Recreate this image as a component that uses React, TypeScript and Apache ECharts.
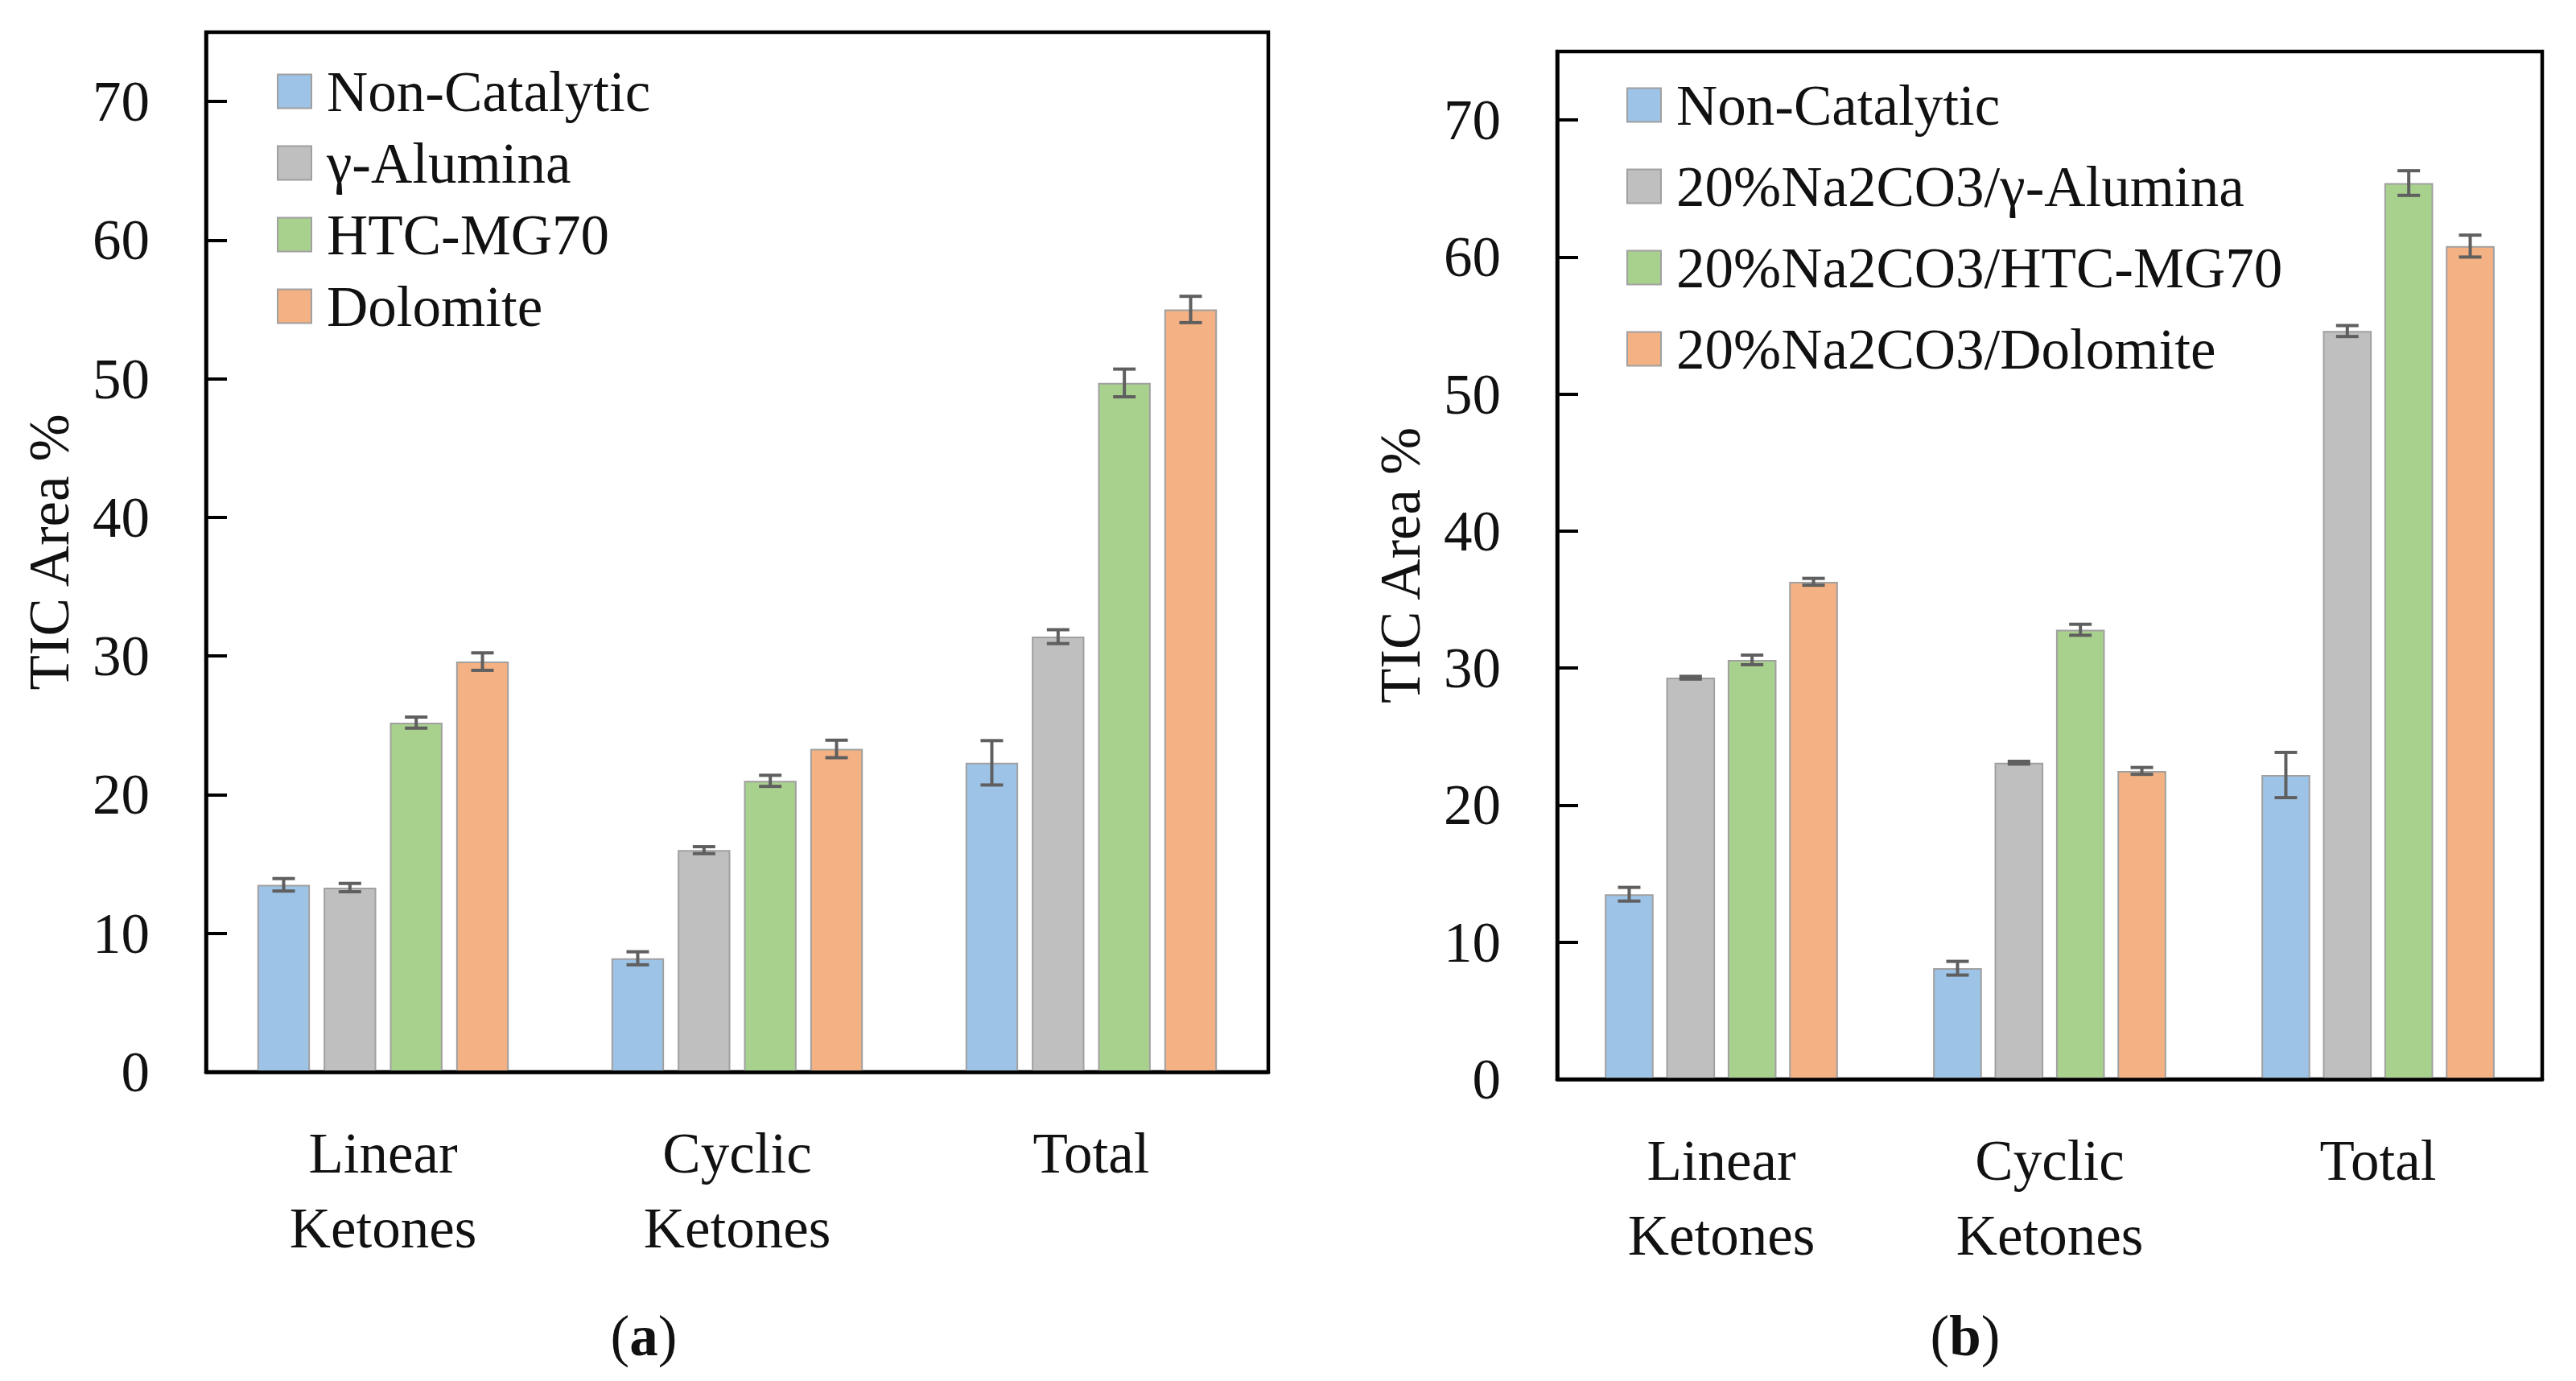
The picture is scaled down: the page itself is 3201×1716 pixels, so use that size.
import React, { useEffect, useRef } from "react";
import * as echarts from "echarts";

const categories = ["Linear\nKetones", "Cyclic\nKetones", "Total"];
const namesA = ["Non-Catalytic", "γ-Alumina", "HTC-MG70", "Dolomite"];
const namesB = ["Non-Catalytic", "20%Na2CO3/γ-Alumina", "20%Na2CO3/HTC-MG70", "20%Na2CO3/Dolomite"];
const colors = ["#9DC3E6", "#BFBFBF", "#A9D18E", "#F4B183"];
const yTicks = [0, 10, 20, 30, 40, 50, 60, 70];

// Panel (a)
const nonCatalyticA = [13.5, 8.2, 22.3];
const nonCatalyticErrA = [0.45, 0.47, 1.6];
const aluminaA = [13.3, 16.0, 31.4];
const aluminaErrA = [0.3, 0.25, 0.5];
const htcA = [25.2, 21.0, 49.7];
const htcErrA = [0.4, 0.4, 1.0];
const dolomiteA = [29.6, 23.3, 55.0];
const dolomiteErrA = [0.63, 0.63, 0.95];

// Panel (b)
const nonCatalyticB = [13.5, 8.1, 22.2];
const nonCatalyticErrB = [0.5, 0.5, 1.65];
const aluminaB = [29.3, 23.1, 54.6];
const aluminaErrB = [0.1, 0.1, 0.4];
const htcB = [30.6, 32.8, 65.4];
const htcErrB = [0.35, 0.4, 0.9];
const dolomiteB = [36.3, 22.5, 60.8];
const dolomiteErrB = [0.25, 0.25, 0.8];

const valuesA = [nonCatalyticA, aluminaA, htcA, dolomiteA];
const errorsA = [nonCatalyticErrA, aluminaErrA, htcErrA, dolomiteErrA];
const valuesB = [nonCatalyticB, aluminaB, htcB, dolomiteB];
const errorsB = [nonCatalyticErrB, aluminaErrB, htcErrB, dolomiteErrB];

const FONT = "Liberation Serif";
const FS = 71;
const CAT_GAP = 0.29;
const BAR_GAP = 0.26;

function errorRender(params: any, api: any) {
  const ci = api.value(0);
  const v = api.value(1);
  const e = api.value(2);
  const si = api.value(3);
  const base = api.coord([ci, v]);
  const band = api.size([1, 0])[0];
  const w = (band * (1 - CAT_GAP)) / (4 + 3 * BAR_GAP);
  const groupW = 4 * w + 3 * BAR_GAP * w;
  const x = base[0] - groupW / 2 + w / 2 + si * (w + BAR_GAP * w);
  const top = api.coord([ci, v + e])[1];
  const bot = api.coord([ci, v - e])[1];
  const cap = 14;
  const style = { stroke: "#5f5f5f", lineWidth: 4 };
  return {
    type: "group",
    children: [
      { type: "line", shape: { x1: x, y1: top, x2: x, y2: bot }, style },
      { type: "line", shape: { x1: x - cap, y1: top, x2: x + cap, y2: top }, style },
      { type: "line", shape: { x1: x - cap, y1: bot, x2: x + cap, y2: bot }, style },
    ],
  };
}

export default function App() {
  const ref = useRef<HTMLDivElement>(null);
  useEffect(() => {
    if (!ref.current) return;
    const chart = echarts.init(ref.current, null, { renderer: "svg" });
    const grids = [
      { left: 256, top: 40, width: 1320, height: 1292 },
      { left: 1935, top: 64, width: 1224, height: 1277 },
    ];
    const textBase = { fontFamily: FONT, fontSize: FS, color: "#111" };
    const xAxes = grids.map((_, i) => ({
      type: "category",
      gridIndex: i,
      data: categories,
      z: 5,
      axisLine: { show: true, lineStyle: { color: "#000", width: 4.5 } },
      axisTick: { show: false },
      axisLabel: { ...textBase, lineHeight: 93, margin: 54, interval: 0 },
    }));
    const yAxes = grids.map((_, i) => ({
      type: "value",
      gridIndex: i,
      min: 0,
      max: 75,
      interval: 10,
      z: 5,
      name: "TIC Area %",
      nameLocation: "middle",
      nameGap: 160,
      nameTextStyle: { ...textBase },
      splitLine: { show: false },
      axisLine: { show: true, lineStyle: { color: "#000", width: 4.5 } },
      axisTick: { show: true, inside: true, length: 26, lineStyle: { color: "#000", width: 4 } },
      axisLabel: {
        ...textBase,
        margin: 70,
        formatter: (v: number) => (yTicks.indexOf(v) >= 0 ? String(v) : ""),
      },
    }));
    const series: any[] = [];
    [valuesA, valuesB].forEach((vals, g) => {
      const names = g === 0 ? namesA : namesB;
      vals.forEach((arr, si) => {
        series.push({
          type: "bar",
          name: names[si],
          xAxisIndex: g,
          yAxisIndex: g,
          data: arr,
          barGap: BAR_GAP * 100 + "%",
          barCategoryGap: CAT_GAP * 100 + "%",
          itemStyle: { color: colors[si], borderColor: "#a0a0a0", borderWidth: 2 },
        });
      });
      const errs = g === 0 ? errorsA : errorsB;
      const data: number[][] = [];
      vals.forEach((arr, si) => arr.forEach((v, ci) => data.push([ci, v, errs[si][ci], si])));
      series.push({
        type: "custom",
        name: "err" + g,
        xAxisIndex: g,
        yAxisIndex: g,
        z: 10,
        renderItem: errorRender,
        encode: { x: 0, y: 1 },
        data,
        silent: true,
      });
    });
    const legendCommon = {
      orient: "vertical",
      itemWidth: 42,
      itemHeight: 42,
      padding: 0,
      icon: "rect",
      selectedMode: false,
      formatter: (name: string) => "{t|" + name + "}",
      textStyle: {
        ...textBase,
        rich: { t: { fontFamily: FONT, fontSize: FS, color: "#111", padding: [0, 0, 0, 14] } },
      },
    };
    chart.setOption({
      animation: false,
      backgroundColor: "#fff",
      grid: grids.map((g) => ({ ...g, show: true, borderColor: "#000", borderWidth: 4.5, backgroundColor: "transparent" })),
      xAxis: xAxes,
      yAxis: yAxes,
      legend: [
        { ...legendCommon, data: namesA, left: 344, top: 78, itemGap: 18 },
        { ...legendCommon, data: namesB, left: 2021, top: 95, itemGap: 30 },
      ],
      series,
      graphic: [
        {
          type: "text",
          x: 800,
          y: 1660,
          style: {
            text: "{p|(}{b|a}{p|)}",
            align: "center",
            verticalAlign: "middle",
            rich: {
              p: { fontFamily: FONT, fontSize: FS, fill: "#111" },
              b: { fontFamily: FONT, fontSize: FS, fontWeight: "bold", fill: "#111" },
            },
          },
        },
        {
          type: "text",
          x: 2442,
          y: 1660,
          style: {
            text: "{p|(}{b|b}{p|)}",
            align: "center",
            verticalAlign: "middle",
            rich: {
              p: { fontFamily: FONT, fontSize: FS, fill: "#111" },
              b: { fontFamily: FONT, fontSize: FS, fontWeight: "bold", fill: "#111" },
            },
          },
        },
      ],
    });
    return () => chart.dispose();
  }, []);
  return (
    <div
      ref={ref}
      style={{ position: "fixed", left: 0, top: 0, width: 3201, height: 1716, background: "#fff" }}
    />
  );
}
